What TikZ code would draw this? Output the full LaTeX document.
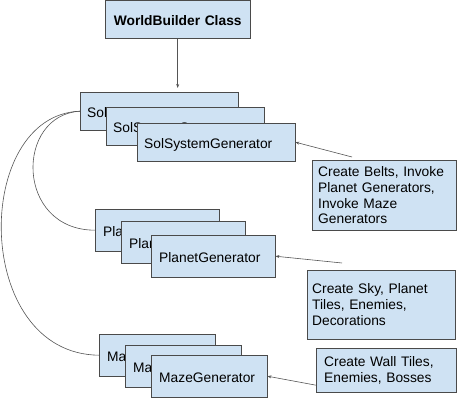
\documentclass[tikz,border=0pt]{standalone}
\usepackage{fontspec}
\setmainfont{Liberation Sans}
\usepackage{tikz}
\usetikzlibrary{arrows.meta}

\definecolor{boxfill}{HTML}{CFE2F3}
\definecolor{boxline}{HTML}{4A4A4A}
\definecolor{wireline}{HTML}{555555}

\tikzset{
    genbox/.style={draw=boxline, fill=boxfill, rectangle, anchor=north west,
        align=left, inner ysep=0pt, text=black,
        font=\fontsize{13.8}{15.9}\selectfont},
    stackbox/.style={genbox, text height=12pt, text depth=0pt},
    wire/.style={draw=wireline, line width=0.6pt},
    arrowwire/.style={wire, -{Stealth[length=4pt,width=3pt]}}
}

\begin{document}
\begin{tikzpicture}[x=1pt, y=-1pt]
    \useasboundingbox (0,0) rectangle (457,411);

    \node[stackbox, align=center, inner xsep=0pt, text width=145pt, minimum height=38pt,
        font=\fontsize{13.8}{15.9}\selectfont\bfseries] (world) at (105,0.5) {WorldBuilder Class};

    \node[stackbox, inner xsep=7pt, text width=144pt, minimum height=38pt] (sol1) at (80,92) {SolSystemGenerator};
    \node[stackbox, inner xsep=7pt, text width=144pt, minimum height=38pt] (sol2) at (106,107) {SolSystemGenerator};
    \node[stackbox, inner xsep=7pt, text width=144pt, minimum height=38pt] (sol3) at (137,123) {SolSystemGenerator};

    \node[stackbox, inner xsep=8pt, text width=108pt, minimum height=42pt] (planet1) at (95,209) {PlanetGenerator};
    \node[stackbox, inner xsep=8pt, text width=108pt, minimum height=42pt] (planet2) at (121,221) {PlanetGenerator};
    \node[stackbox, inner xsep=8pt, text width=108pt, minimum height=42pt] (planet3) at (151,235) {PlanetGenerator};

    \node[stackbox, inner xsep=8pt, text width=100pt, minimum height=42pt] (maze1) at (99,334) {MazeGenerator};
    \node[stackbox, inner xsep=8pt, text width=100pt, minimum height=42pt] (maze2) at (125,345) {MazeGenerator};
    \node[stackbox, inner xsep=8pt, text width=100pt, minimum height=42pt] (maze3) at (151,355) {MazeGenerator};

    \node[genbox, inner xsep=6pt, text width=132pt, minimum height=70pt] (solnote) at (312,160)
        {Create Belts, Invoke\\Planet Generators,\\Invoke Maze\\Generators};
    \node[genbox, inner xsep=5pt, text width=138pt, minimum height=69pt] (planetnote) at (307,270)
        {Create Sky, Planet\\Tiles, Enemies,\\Decorations};
    \node[genbox, inner xsep=8pt, text width=124pt, minimum height=44pt] (mazenote) at (316,348)
        {Create Wall Tiles,\\Enemies, Bosses};

    % tails of the note arrows
    \coordinate (soltail) at ([xshift=40pt,yshift=3pt]solnote.north west);
    \coordinate (planettail) at ([xshift=35pt,yshift=7pt]planetnote.north west);
    \coordinate (mazetail) at ([yshift=-15pt]mazenote.west);

    \draw[arrowwire, shorten >=4pt] (world.south) -- (world.south |- sol1.north);
    \draw[arrowwire] (soltail) -- (sol3.east);
    \draw[arrowwire] (planettail) -- (planet3.east);
    \draw[arrowwire] (mazetail) -- (maze3.east);

    % links from the sol system stack to the others
    \draw[wire] (sol1.west) .. controls (15,115) and (15,230) .. (planet1.west);
    \draw[wire] (sol1.west) .. controls (-28,115) and (-28,354) .. (maze1.west);
\end{tikzpicture}
\end{document}
